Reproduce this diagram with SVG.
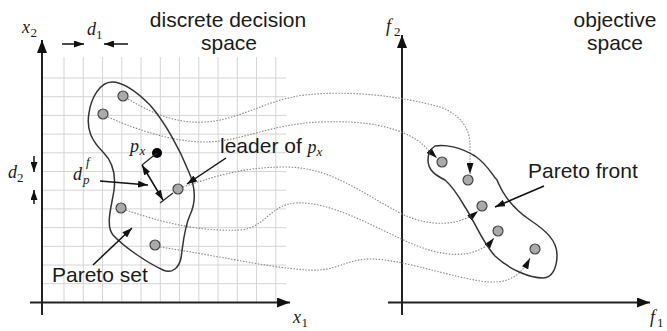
<svg xmlns="http://www.w3.org/2000/svg" width="667" height="331" viewBox="0 0 667 331">
<defs>
<marker id="axh" markerUnits="userSpaceOnUse" markerWidth="14" markerHeight="10" refX="13" refY="5" orient="auto"><path d="M0,0 L13,5 L0,10 z" fill="#111"/></marker>
<marker id="ah" markerUnits="userSpaceOnUse" markerWidth="10" markerHeight="7" refX="10" refY="3.5" orient="auto-start-reverse"><path d="M0,0 L10,3.5 L0,7 z" fill="#111"/></marker>
<marker id="ch" markerUnits="userSpaceOnUse" markerWidth="12" markerHeight="7" refX="11" refY="3.5" orient="auto"><path d="M0,0 L11,3.5 L0,7 z" fill="#111"/></marker>
</defs>
<style>
.grid line{stroke:#d4d4d4;stroke-width:1}
.axis{stroke:#222;stroke-width:2;fill:none}
.blob{stroke:#333;stroke-width:1.5;fill:none}
.pt{fill:#aaa;stroke:#444;stroke-width:1.2}
.curve{stroke:#888;stroke-width:1.1;fill:none;stroke-dasharray:1.5 1.5}
.arr{stroke:#111;stroke-width:1.5;fill:none}
.sans{font-family:"Liberation Sans",Arial,sans-serif;font-size:21px;fill:#1a1a1a}
.math{font-family:"Liberation Serif","Times New Roman",serif;font-style:italic;font-size:18px;fill:#1a1a1a}
.sub{font-family:"Liberation Serif","Times New Roman",serif;font-size:13px;fill:#1a1a1a}
.subi{font-family:"Liberation Serif","Times New Roman",serif;font-style:italic;font-size:13px;fill:#1a1a1a}
</style>

<g id="grid" class="grid">
<line x1="64" y1="57" x2="64" y2="302"/><line x1="83.3" y1="57" x2="83.3" y2="302"/><line x1="102.5" y1="57" x2="102.5" y2="302"/><line x1="121.8" y1="57" x2="121.8" y2="302"/><line x1="141" y1="57" x2="141" y2="302"/><line x1="160.3" y1="57" x2="160.3" y2="302"/><line x1="179.5" y1="57" x2="179.5" y2="302"/><line x1="198.8" y1="57" x2="198.8" y2="302"/><line x1="218" y1="57" x2="218" y2="302"/><line x1="237.3" y1="57" x2="237.3" y2="302"/><line x1="256.5" y1="57" x2="256.5" y2="302"/><line x1="275.8" y1="57" x2="275.8" y2="302"/>
<line x1="43" y1="78" x2="286" y2="78"/><line x1="43" y1="96.7" x2="286" y2="96.7"/><line x1="43" y1="115.4" x2="286" y2="115.4"/><line x1="43" y1="134.1" x2="286" y2="134.1"/><line x1="43" y1="152.8" x2="286" y2="152.8"/><line x1="43" y1="171.5" x2="286" y2="171.5"/><line x1="43" y1="190.2" x2="286" y2="190.2"/><line x1="43" y1="208.9" x2="286" y2="208.9"/><line x1="43" y1="227.6" x2="286" y2="227.6"/><line x1="43" y1="246.3" x2="286" y2="246.3"/><line x1="43" y1="265" x2="286" y2="265"/><line x1="43" y1="283.7" x2="286" y2="283.7"/>
</g>

<g id="decision-axes">
<line class="axis" x1="42" y1="315" x2="42" y2="40" marker-end="url(#axh)"/>
<line class="axis" x1="30" y1="302.5" x2="290" y2="302.5" marker-end="url(#axh)"/>
<text class="math" x="22" y="33">x</text><text class="sub" x="30.5" y="37">2</text>
<text class="math" x="293" y="323">x</text><text class="sub" x="301.5" y="327">1</text>
</g>

<g id="objective-axes">
<line class="axis" x1="402" y1="315" x2="402" y2="35" marker-end="url(#axh)"/>
<line class="axis" x1="388" y1="302.5" x2="650" y2="302.5" marker-end="url(#axh)"/>
<text class="math" x="386" y="32">f</text><text class="sub" x="394" y="36">2</text>
<text class="math" x="650" y="323">f</text><text class="sub" x="657" y="327">1</text>
</g>

<g id="labels">
<text class="sans" x="228" y="27" text-anchor="middle">discrete decision</text>
<text class="sans" x="229" y="50" text-anchor="middle">space</text>
<text class="sans" x="615" y="27" text-anchor="middle">objective</text>
<text class="sans" x="615" y="50" text-anchor="middle">space</text>
</g>

<g id="d1">
<line class="arr" x1="62" y1="44" x2="84" y2="44" marker-end="url(#ah)"/>
<line class="arr" x1="128" y1="44" x2="104" y2="44" marker-end="url(#ah)"/>
<text class="math" x="87" y="35">d</text><text class="sub" x="96" y="39">1</text>
</g>

<g id="d2">
<line class="arr" x1="34" y1="156" x2="34" y2="172" marker-end="url(#ah)"/>
<line class="arr" x1="34" y1="204" x2="34" y2="190" marker-end="url(#ah)"/>
<text class="math" x="8" y="178">d</text><text class="sub" x="17" y="182">2</text>
</g>

<g id="connectors">
<path class="curve" d="M128,99 C150,112 175,124 205,122 C240,120 265,100 305,95 C350,90 400,96 440,107 C462,115 470,130 470,145 L470,174" marker-end="url(#ch)"/>
<path class="curve" d="M108,117 C130,127 170,142 205,142 C240,142 270,124 320,122 C370,120 400,128 420,142 L437,158" marker-end="url(#ch)"/>
<path class="curve" d="M183,187 C210,178 240,167 285,167 C330,167 360,192 400,213 C430,228 460,226 478,211" marker-end="url(#ch)"/>
<path class="curve" d="M126,210 C160,222 200,232 240,230 C265,228 270,205 295,203 C330,201 370,225 410,243 C440,256 475,262 494,238" marker-end="url(#ch)"/>
<path class="curve" d="M160,247 C220,256 290,272 320,270 C340,268 350,259 370,259 C400,259 440,274 480,281 C505,285 520,278 530,258" marker-end="url(#ch)"/>
</g>

<g id="pareto-set">
<path class="blob" d="M112,82 C125,82 140,95 150,105 C165,122 180,150 188,170 C195,185 197,200 190,215 C184,228 183,245 181,258 C179,268 172,274 163,270 C148,263 125,248 113,235 C105,225 112,205 114,190 C116,175 113,162 103,152 C92,141 86,130 89,113 C91,98 100,82 112,82 Z"/>
<circle class="pt" cx="123" cy="96" r="5"/>
<circle class="pt" cx="103" cy="114" r="5"/>
<circle class="pt" cx="178" cy="189" r="5"/>
<circle class="pt" cx="121" cy="208" r="5"/>
<circle class="pt" cx="155" cy="245" r="5"/>
<text class="sans" x="52" y="282">Pareto set</text>
<line class="arr" x1="93" y1="265" x2="132" y2="228" marker-end="url(#ah)"/>
</g>

<g id="px">
<circle cx="157" cy="153" r="5" fill="#000"/>
<text class="math" x="130" y="152">p</text><text class="subi" x="139.5" y="155">x</text>
<line stroke="#222" stroke-width="1.2" x1="157" y1="153" x2="142" y2="165"/>
<line class="arr" stroke-width="1.2" x1="142" y1="165" x2="163" y2="200" marker-start="url(#ah)" marker-end="url(#ah)"/>
<line stroke="#222" stroke-width="1.2" x1="160" y1="203" x2="173" y2="193"/>
<text class="math" x="73" y="180">d</text><text class="subi" x="83" y="184">p</text><text class="subi" x="86" y="166">f</text>
<line class="arr" x1="100" y1="181" x2="148" y2="185" marker-end="url(#ah)"/>
</g>

<g id="leader">
<text class="sans" x="220" y="153">leader of <tspan class="math" font-size="19">p</tspan><tspan class="subi" dy="3">x</tspan></text>
<line class="arr" x1="226" y1="158" x2="187" y2="184" marker-end="url(#ah)"/>
</g>

<g id="pareto-front">
<path class="blob" d="M435,146 C445,144 460,147 475,156 C488,165 492,175 497,180 C503,195 515,210 530,220 C545,230 557,240 557,255 C557,268 552,278 543,278 C530,278 510,270 495,256 C482,242 475,222 465,207 C458,195 452,186 445,180 C435,175 428,170 428,160 C428,152 432,148 435,146 Z"/>
<circle class="pt" cx="442" cy="162" r="5"/>
<circle class="pt" cx="468" cy="180" r="5"/>
<circle class="pt" cx="482" cy="206" r="5"/>
<circle class="pt" cx="498" cy="231" r="5"/>
<circle class="pt" cx="535" cy="249" r="5"/>
<text class="sans" x="528" y="178">Pareto front</text>
<line class="arr" x1="544" y1="186" x2="495" y2="207" marker-end="url(#ah)"/>
</g>
</svg>
